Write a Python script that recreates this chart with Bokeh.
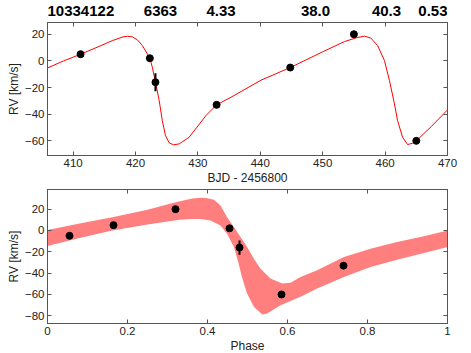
from bokeh.plotting import figure
from bokeh.layouts import column
from bokeh.models import LinearAxis, FixedTicker, Range1d
from bokeh.core.properties import value
from bokeh.embed import file_html
from bokeh.resources import INLINE

# ---- data ----
title_values = ["10334122", "6363", "4.33", "38.0", "40.3", "0.53"]

obs_bjd = [411.2, 422.3, 423.2, 433.0, 444.8, 455.0, 465.0]
obs_phase = [0.165, 0.455, 0.48, 0.74, 0.055, 0.32, 0.585]
obs_rv = [5.0, 2.0, -16.0, -33.0, -5.0, 20.0, -60.0]
obs_err = [1.0, 1.2, 6.7, 1.0, 1.0, 1.0, 1.2]

model_bjd = [405.9, 408.5, 411.2, 414.0, 416.3, 418.0, 418.7, 419.5, 420.3, 421.1,
             421.9, 422.3, 422.7, 423.2, 423.8, 424.3, 424.8, 425.4, 426.1, 427.0,
             428.6, 431.3, 433.0, 435.3, 440.1, 444.8, 450.0, 453.5, 455.5, 456.7,
             457.7, 458.8, 459.9, 460.7, 461.5, 462.0, 462.8, 463.6, 464.4, 465.0,
             467.4, 470.0]
model_rv = [-5.3, 0.0, 5.0, 10.5, 15.2, 18.0, 18.5, 18.0, 15.8, 11.5,
            5.2, 2.0, -4.8, -16.0, -29.8, -44.8, -56.0, -61.5, -63.0, -62.3,
            -57.3, -41.0, -33.0, -27.3, -14.5, -5.0, 6.8, 14.5, 17.5, 18.5,
            17.2, 11.5, 0.2, -14.8, -32.3, -44.8, -57.3, -62.8, -61.8, -60.0,
            -49.3, -36.8]

band_up_phase = [0.0, 0.08, 0.162, 0.25, 0.32, 0.362, 0.385, 0.40, 0.416, 0.4325,
                 0.449, 0.466, 0.4825, 0.499, 0.516, 0.5325, 0.5575, 0.5866, 0.6075,
                 0.6325, 0.674, 0.741, 0.8075, 0.874, 0.941, 1.0]
band_up_rv = [0.5, 6.5, 12.5, 19.5, 26.5, 30.0, 30.6, 30.3, 28.7, 23.4,
              12.5, 3.2, -6.2, -15.5, -26.4, -35.8, -45.1, -49.8, -49.0,
              -43.5, -37.3, -24.9, -17.1, -10.8, -5.5, 0.0]
band_lo_phase = [0.0, 0.08, 0.162, 0.25, 0.33, 0.36, 0.3825, 0.4075, 0.4325, 0.449,
                 0.466, 0.478, 0.486, 0.499, 0.516, 0.537, 0.549, 0.5825, 0.6325,
                 0.674, 0.741, 0.8075, 0.874, 0.941, 1.0]
band_lo_rv = [-14.5, -7.0, 0.0, 5.5, 10.0, 10.8, 10.8, 9.4, 4.7, -3.1,
              -15.5, -31.1, -43.5, -59.1, -71.6, -78.8, -77.8, -70.0, -62.2,
              -54.5, -43.5, -34.2, -27.4, -21.1, -15.5]

top_xticks = [410, 420, 430, 440, 450, 460, 470]
top_yticks = [-60, -40, -20, 0, 20]
bot_xticks = [0, 0.2, 0.4, 0.6, 0.8, 1]
bot_xlabels = ["0", "0.2", "0.4", "0.6", "0.8", "1"]
bot_yticks = [-80, -60, -40, -20, 0, 20]

FONT = "Liberation Sans"
AX = "#555555"
TXT = "#222222"
LEFT, RIGHT, FW = 47, 22, 400


def style_axis(ax):
    ax.axis_line_color = AX
    ax.major_tick_line_color = AX
    ax.minor_tick_line_color = None
    ax.major_tick_in = 4
    ax.major_tick_out = 0
    ax.major_label_text_font = FONT
    ax.major_label_text_color = TXT
    ax.major_label_text_font_size = "11.5px"
    ax.axis_label_text_font = FONT
    ax.axis_label_text_color = TXT
    ax.axis_label_text_font_style = "normal"
    ax.axis_label_text_font_size = "12px"
    ax.axis_label_standoff = 1
    ax.major_label_standoff = 3


def make_fig(xr, yr, xticks, yticks, frame_h, top, xlabel, ylabel, overrides=None):
    p = figure(x_range=Range1d(*xr), y_range=Range1d(*yr),
               frame_width=FW, frame_height=frame_h,
               min_border_left=LEFT, min_border_right=RIGHT,
               min_border_top=top, min_border_bottom=0,
               x_axis_location=None, y_axis_location=None,
               output_backend="svg", toolbar_location=None)
    p.xgrid.visible = False
    p.ygrid.visible = False
    p.outline_line_color = AX
    p.background_fill_color = "white"
    p.border_fill_color = "white"

    bx = LinearAxis(ticker=FixedTicker(ticks=xticks), axis_label=xlabel)
    style_axis(bx)
    if overrides:
        bx.major_label_overrides = overrides
    p.add_layout(bx, "below")
    ly = LinearAxis(ticker=FixedTicker(ticks=yticks), axis_label=ylabel)
    style_axis(ly)
    p.add_layout(ly, "left")

    ta = LinearAxis(ticker=FixedTicker(ticks=xticks))
    style_axis(ta)
    ta.major_label_overrides = {t: "" for t in xticks}
    ta.major_label_standoff = 0
    p.add_layout(ta, "above")
    ra = LinearAxis(ticker=FixedTicker(ticks=yticks))
    style_axis(ra)
    ra.major_label_overrides = {t: "" for t in yticks}
    ra.major_label_standoff = 0
    p.add_layout(ra, "right")
    return p


# ---- title row (x in pixels from the frame's left edge) ----
pt = figure(x_range=Range1d(0, FW), y_range=Range1d(0, 22),
            frame_width=FW, frame_height=22,
            min_border_left=LEFT, min_border_right=RIGHT,
            min_border_top=0, min_border_bottom=0,
            x_axis_location=None, y_axis_location=None,
            output_backend="svg", toolbar_location=None)
pt.xgrid.visible = False
pt.ygrid.visible = False
pt.outline_line_color = None
title_px = [0, 113, 173.5, 268, 339, 400]
title_align = ["left", "center", "center", "center", "center", "right"]
pt.text(x=title_px, y=[12] * len(title_px), text=title_values,
        text_align=title_align, text_baseline="middle",
        text_font=value(FONT), text_font_style="bold", text_font_size="15px",
        text_color="black")

# ---- top panel ----
p1 = make_fig((405.9, 470.0), (-71.0, 28.8), top_xticks, top_yticks, 133, 0,
              "BJD - 2456800", "RV [km/s]")
p1.line(model_bjd, model_rv, line_color="#ff0000", line_width=1)
p1.segment(x0=obs_bjd, y0=[r - e for r, e in zip(obs_rv, obs_err)],
           x1=obs_bjd, y1=[r + e for r, e in zip(obs_rv, obs_err)],
           line_color="black", line_width=2)
p1.scatter(obs_bjd, obs_rv, size=7, fill_color="black", line_color="black")

# ---- bottom panel ----
p2 = make_fig((0.0, 1.0), (-87.2, 38.4), bot_xticks, bot_yticks, 134, 2,
              "Phase", "RV [km/s]", dict(zip(bot_xticks, bot_xlabels)))
p2.patch(band_up_phase + band_lo_phase[::-1], band_up_rv + band_lo_rv[::-1],
         fill_color="#ff7f7f", line_color=None)
p2.segment(x0=obs_phase, y0=[r - e for r, e in zip(obs_rv, obs_err)],
           x1=obs_phase, y1=[r + e for r, e in zip(obs_rv, obs_err)],
           line_color="black", line_width=2)
p2.scatter(obs_phase, obs_rv, size=7, fill_color="black", line_color="black")

layout = column(pt, p1, p2, spacing=0)
open("out.html", "w").write(file_html(layout, INLINE))
